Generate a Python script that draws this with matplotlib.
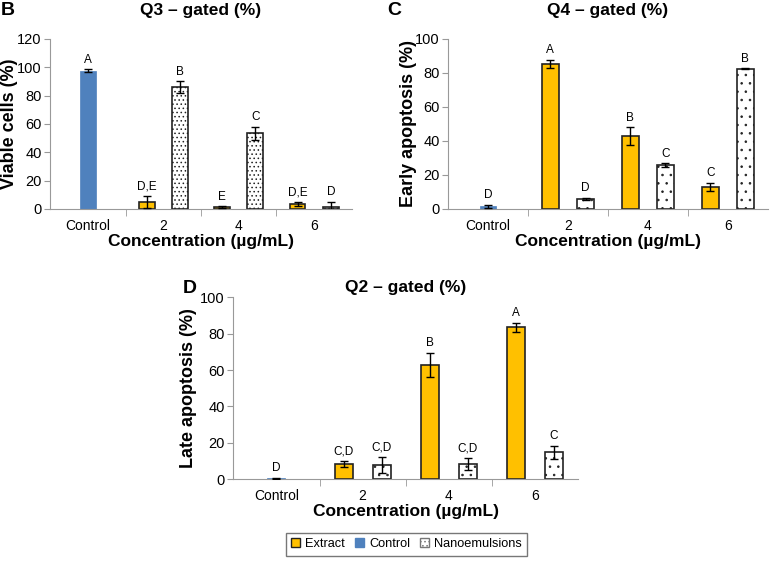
import matplotlib.pyplot as plt
import numpy as np
from matplotlib.patches import Patch

plt.rcParams['font.family'] = ['Liberation Sans', 'DejaVu Sans']
plt.rcParams['hatch.color'] = '#777777'
plt.rcParams['hatch.linewidth'] = 0.6

categories = ['Control', '2', '4', '6']
series = ['Extract', 'Control', 'Nanoemulsions']

# panel B - Q3 viable cells
q3_extract = [np.nan, 4.8, 1.3, 3.5]
q3_extract_err = [0, 4.5, 0.5, 1.4]
q3_control = [97.5, np.nan, np.nan, np.nan]
q3_control_err = [1.0, 0, 0, 0]
q3_nano = [np.nan, 86.0, 53.2, 1.3]
q3_nano_err = [0, 3.9, 4.8, 3.9]
q3_lab_extract = ['', 'D,E', 'E', 'D,E']
q3_lab_control = ['A', '', '', '']
q3_lab_nano = ['', 'B', 'C', 'D']

# panel C - Q4 early apoptosis
q4_extract = [np.nan, 85.3, 42.6, 12.9]
q4_extract_err = [0, 2.5, 5.3, 2.6]
q4_control = [1.5, np.nan, np.nan, np.nan]
q4_control_err = [1.0, 0, 0, 0]
q4_nano = [np.nan, 5.9, 25.7, 82.3]
q4_nano_err = [0, 0.7, 1.0, 0.3]
q4_lab_extract = ['', 'A', 'B', 'C']
q4_lab_control = ['D', '', '', '']
q4_lab_nano = ['', 'D', 'C', 'B']

# panel D - Q2 late apoptosis
q2_extract = [np.nan, 8.2, 62.9, 83.5]
q2_extract_err = [0, 1.8, 6.5, 2.5]
q2_control = [0.5, np.nan, np.nan, np.nan]
q2_control_err = [0.3, 0, 0, 0]
q2_nano = [np.nan, 7.6, 8.5, 14.7]
q2_nano_err = [0, 4.3, 3.3, 3.6]
q2_lab_extract = ['', 'C,D', 'B', 'A']
q2_lab_control = ['D', '', '', '']
q2_lab_nano = ['', 'C,D', 'C,D', 'C']

GOLD = '#FFC000'
BLUE = '#4F81BD'
GREY = '#999999'


def draw_panel(ax, ext, ext_err, ctl, ctl_err, nano, nano_err, labs, ymax, step,
               title, ylabel, letter, hatch, title_pad, letter_xy, ylab_x):
    x = np.arange(len(categories))
    w = 0.22
    data = [(ext, ext_err, -w, dict(color=GOLD, edgecolor='#222222', lw=1.2)),
            (ctl, ctl_err, 0, dict(color=BLUE, edgecolor=BLUE, lw=0.5)),
            (nano, nano_err, w, dict(color='white', edgecolor='#222222', lw=1.2, hatch=hatch))]
    for (vals, errs, off, style), lab in zip(data, labs):
        vals = np.array(vals, dtype=float)
        ax.bar(x + off, vals, w * 0.95, **style, zorder=2)
        ax.errorbar(x + off, vals, yerr=errs, fmt='none', ecolor='black',
                    elinewidth=1.0, capsize=3, capthick=1.0, zorder=3)
        for xi, v, e, t in zip(x + off, vals, errs, lab):
            if t:
                ax.text(xi, v + e + ymax * 0.02, t, ha='center', va='bottom', fontsize=8.5)
    ax.set_xlim(-0.5, len(categories) - 0.5)
    ax.set_ylim(0, ymax)
    ax.set_yticks(np.arange(0, ymax + 1, step))
    ax.tick_params(axis='y', labelsize=10.5, color=GREY, length=4, pad=2)
    ax.set_xticks(x)
    ax.set_xticklabels(categories, fontsize=10)
    ax.tick_params(axis='x', length=0, pad=7)
    ax.set_xticks(np.arange(0.5, len(categories) - 0.5, 1), minor=True)
    ax.tick_params(axis='x', which='minor', length=5, color=GREY)
    for s in ['top', 'right']:
        ax.spines[s].set_visible(False)
    for s in ['left', 'bottom']:
        ax.spines[s].set_color(GREY)
    ax.set_title(title, fontsize=12.5, fontweight='bold', pad=title_pad)
    ax.set_ylabel(ylabel, fontsize=13, fontweight='bold')
    ax.yaxis.set_label_coords(ylab_x, 0.5)
    ax.set_xlabel('Concentration (µg/mL)', fontsize=12.5, fontweight='bold', labelpad=1)
    ax.text(letter_xy[0], letter_xy[1], letter, transform=ax.transAxes, fontsize=14,
            fontweight='bold', ha='left', va='baseline')


fig = plt.figure(figsize=(7.7, 5.63), dpi=100)
ax_b = fig.add_axes([0.065, 0.629, 0.392, 0.302])
ax_c = fig.add_axes([0.582, 0.629, 0.415, 0.302])
ax_d = fig.add_axes([0.303, 0.149, 0.448, 0.323])

draw_panel(ax_b, q3_extract, q3_extract_err, q3_control, q3_control_err, q3_nano, q3_nano_err,
           [q3_lab_extract, q3_lab_control, q3_lab_nano], 120, 20,
           'Q3 – gated (%)', 'Viable cells (%)', 'B', '....', 17,
           (-0.162, 1.0 + 24 / 170), -0.105)
draw_panel(ax_c, q4_extract, q4_extract_err, q4_control, q4_control_err, q4_nano, q4_nano_err,
           [q4_lab_extract, q4_lab_control, q4_lab_nano], 100, 20,
           'Q4 – gated (%)', 'Early apoptosis (%)', 'C', '..', 17,
           (-0.19, 1.0 + 24 / 170), -0.097)
draw_panel(ax_d, q2_extract, q2_extract_err, q2_control, q2_control_err, q2_nano, q2_nano_err,
           [q2_lab_extract, q2_lab_control, q2_lab_nano], 100, 20,
           'Q2 – gated (%)', 'Late apoptosis (%)', 'D', '..', 4,
           (-0.148, 1.0 + 4 / 182), -0.104)

handles = [Patch(facecolor=GOLD, edgecolor='#222222', label='Extract'),
           Patch(facecolor=BLUE, edgecolor=BLUE, label='Control'),
           Patch(facecolor='white', edgecolor='#777777', hatch='....', label='Nanoemulsions')]
leg = fig.legend(handles=handles, loc='center', bbox_to_anchor=(0.528, 0.033), ncol=3,
                 fontsize=9.2, frameon=True, fancybox=False, handlelength=0.7,
                 handleheight=0.7, handletextpad=0.4, columnspacing=0.8,
                 borderpad=0.4)
leg.get_frame().set_edgecolor('#555555')
leg.get_frame().set_linewidth(1.0)

fig.savefig('out.png', dpi=100)
